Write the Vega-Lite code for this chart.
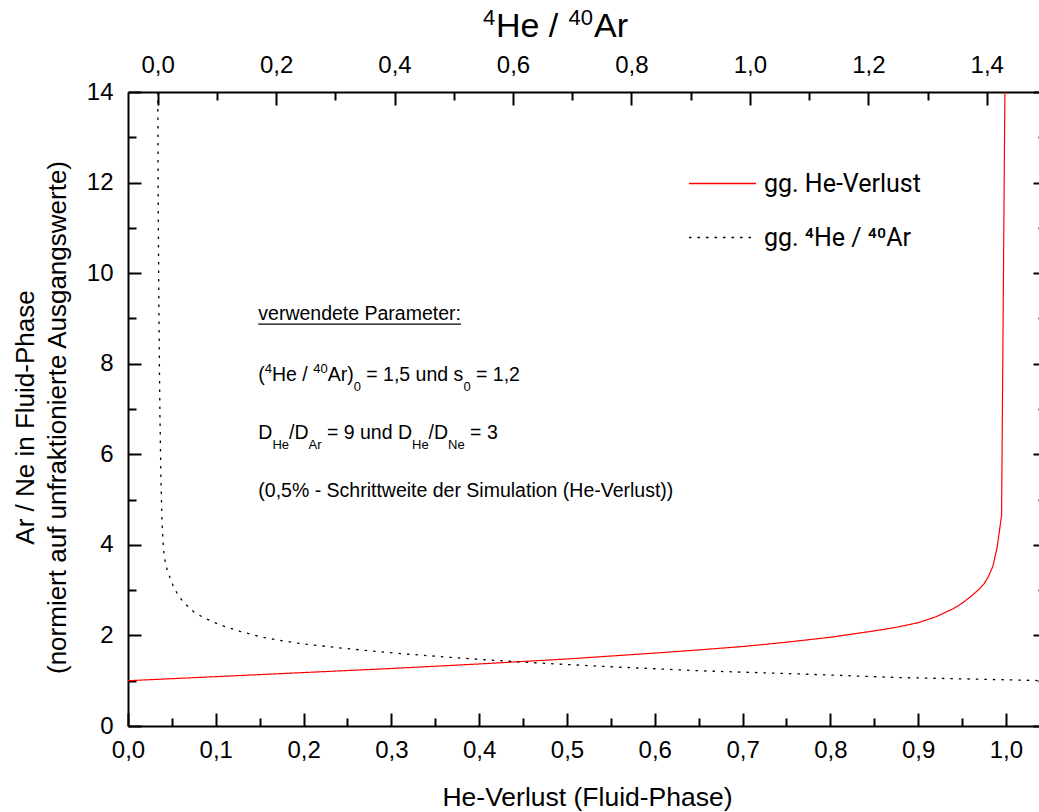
{
 "$schema": "https://vega.github.io/schema/vega-lite/v6.json",
 "autosize": {"type": "none"},
 "padding": {"left": 128, "top": 92, "right": -7, "bottom": 86},
 "width": 918,
 "height": 634,
 "config": {
  "font": "Liberation Sans",
  "view": {"stroke": null},
  "axis": {"grid": false, "domainColor": "#000", "domainWidth": 2, "tickColor": "#000", "tickWidth": 2, "labelColor": "#000", "titleColor": "#000", "labelFontSize": 24, "labelFont": "Liberation Sans", "titleFont": "Liberation Sans", "titleFontWeight": "normal", "labelFlush": false, "labelOverlap": false},
  "legend": {"rowPadding": 6},
  "text": {"font": "Liberation Sans", "color": "#000"}
 },
 "data": {"values": [
  {"series": "gg. He-Verlust", "f": 0.0, "v": 1.0},
  {"series": "gg. He-Verlust", "f": 0.05, "v": 1.045},
  {"series": "gg. He-Verlust", "f": 0.1, "v": 1.09},
  {"series": "gg. He-Verlust", "f": 0.15, "v": 1.135},
  {"series": "gg. He-Verlust", "f": 0.2, "v": 1.18},
  {"series": "gg. He-Verlust", "f": 0.25, "v": 1.225},
  {"series": "gg. He-Verlust", "f": 0.3, "v": 1.27},
  {"series": "gg. He-Verlust", "f": 0.35, "v": 1.32},
  {"series": "gg. He-Verlust", "f": 0.4, "v": 1.37},
  {"series": "gg. He-Verlust", "f": 0.45, "v": 1.425},
  {"series": "gg. He-Verlust", "f": 0.5, "v": 1.48},
  {"series": "gg. He-Verlust", "f": 0.55, "v": 1.545},
  {"series": "gg. He-Verlust", "f": 0.6, "v": 1.61},
  {"series": "gg. He-Verlust", "f": 0.65, "v": 1.68},
  {"series": "gg. He-Verlust", "f": 0.7, "v": 1.755},
  {"series": "gg. He-Verlust", "f": 0.75, "v": 1.85},
  {"series": "gg. He-Verlust", "f": 0.8, "v": 1.96},
  {"series": "gg. He-Verlust", "f": 0.85, "v": 2.1},
  {"series": "gg. He-Verlust", "f": 0.875, "v": 2.18},
  {"series": "gg. He-Verlust", "f": 0.9, "v": 2.28},
  {"series": "gg. He-Verlust", "f": 0.92, "v": 2.41},
  {"series": "gg. He-Verlust", "f": 0.94, "v": 2.59},
  {"series": "gg. He-Verlust", "f": 0.95, "v": 2.71},
  {"series": "gg. He-Verlust", "f": 0.96, "v": 2.86},
  {"series": "gg. He-Verlust", "f": 0.97, "v": 3.03},
  {"series": "gg. He-Verlust", "f": 0.975, "v": 3.14},
  {"series": "gg. He-Verlust", "f": 0.98, "v": 3.3},
  {"series": "gg. He-Verlust", "f": 0.985, "v": 3.52},
  {"series": "gg. He-Verlust", "f": 0.99, "v": 3.95},
  {"series": "gg. He-Verlust", "f": 0.995, "v": 4.65},
  {"series": "gg. He-Verlust", "f": 1.0, "v": 17.0},
  {"series": "gg. ⁴He / ⁴⁰Ar", "r": 0.0003, "v": 14.0},
  {"series": "gg. ⁴He / ⁴⁰Ar", "r": 0.001, "v": 11.5},
  {"series": "gg. ⁴He / ⁴⁰Ar", "r": 0.002, "v": 9.5},
  {"series": "gg. ⁴He / ⁴⁰Ar", "r": 0.003, "v": 8.0},
  {"series": "gg. ⁴He / ⁴⁰Ar", "r": 0.004, "v": 6.8},
  {"series": "gg. ⁴He / ⁴⁰Ar", "r": 0.0057, "v": 5.4},
  {"series": "gg. ⁴He / ⁴⁰Ar", "r": 0.0074, "v": 4.5},
  {"series": "gg. ⁴He / ⁴⁰Ar", "r": 0.0095, "v": 4.0},
  {"series": "gg. ⁴He / ⁴⁰Ar", "r": 0.0113, "v": 3.73},
  {"series": "gg. ⁴He / ⁴⁰Ar", "r": 0.015, "v": 3.5},
  {"series": "gg. ⁴He / ⁴⁰Ar", "r": 0.0185, "v": 3.36},
  {"series": "gg. ⁴He / ⁴⁰Ar", "r": 0.027, "v": 3.07},
  {"series": "gg. ⁴He / ⁴⁰Ar", "r": 0.035, "v": 2.88},
  {"series": "gg. ⁴He / ⁴⁰Ar", "r": 0.044, "v": 2.73},
  {"series": "gg. ⁴He / ⁴⁰Ar", "r": 0.061, "v": 2.52},
  {"series": "gg. ⁴He / ⁴⁰Ar", "r": 0.078, "v": 2.39},
  {"series": "gg. ⁴He / ⁴⁰Ar", "r": 0.106, "v": 2.23},
  {"series": "gg. ⁴He / ⁴⁰Ar", "r": 0.139, "v": 2.09},
  {"series": "gg. ⁴He / ⁴⁰Ar", "r": 0.174, "v": 1.97},
  {"series": "gg. ⁴He / ⁴⁰Ar", "r": 0.207, "v": 1.89},
  {"series": "gg. ⁴He / ⁴⁰Ar", "r": 0.241, "v": 1.82},
  {"series": "gg. ⁴He / ⁴⁰Ar", "r": 0.297, "v": 1.74},
  {"series": "gg. ⁴He / ⁴⁰Ar", "r": 0.35, "v": 1.67},
  {"series": "gg. ⁴He / ⁴⁰Ar", "r": 0.41, "v": 1.6},
  {"series": "gg. ⁴He / ⁴⁰Ar", "r": 0.5, "v": 1.51},
  {"series": "gg. ⁴He / ⁴⁰Ar", "r": 0.616, "v": 1.41},
  {"series": "gg. ⁴He / ⁴⁰Ar", "r": 0.746, "v": 1.32},
  {"series": "gg. ⁴He / ⁴⁰Ar", "r": 0.914, "v": 1.22},
  {"series": "gg. ⁴He / ⁴⁰Ar", "r": 1.083, "v": 1.15},
  {"series": "gg. ⁴He / ⁴⁰Ar", "r": 1.251, "v": 1.07},
  {"series": "gg. ⁴He / ⁴⁰Ar", "r": 1.4, "v": 1.03},
  {"series": "gg. ⁴He / ⁴⁰Ar", "r": 1.5, "v": 1.0}
 ]},
 "layer": [
  {"layer": [
   {
    "transform": [{"filter": "datum.series == 'gg. He-Verlust'"}],
    "mark": {"type": "line", "strokeWidth": 1.2, "clip": true},
    "encoding": {
     "x": {"field": "f", "type": "quantitative", "scale": {"domain": [0, 1.0456], "nice": false, "zero": false},
      "axis": {"orient": "bottom", "values": [0, 0.05, 0.1, 0.15, 0.2, 0.25, 0.3, 0.35, 0.4, 0.45, 0.5, 0.55, 0.6, 0.65, 0.7, 0.75, 0.8, 0.85, 0.9, 0.95, 1.0],
       "labelExpr": "abs(datum.value*10 - round(datum.value*10)) < 0.001 ? replace(format(datum.value, '.1f'), '.', ',') : ''",
       "tickSize": {"condition": {"test": "abs(datum.value*10 - round(datum.value*10)) < 0.001", "value": -13}, "value": -8},
       "tickWidth": 2, "tickColor": "#000",
       "labelPadding": 25,
       "title": "He-Verlust (Fluid-Phase)", "titleFontSize": 26.5, "titleY": 79, "titleBaseline": "alphabetic"}},
     "y": {"field": "v", "type": "quantitative", "scale": {"domain": [0, 14], "nice": false},
      "axis": {"orient": "left", "values": [0,1,2,3,4,5,6,7,8,9,10,11,12,13,14],
       "labelExpr": "datum.value % 2 == 0 ? datum.label : ''",
       "tickSize": {"condition": {"test": "datum.value % 2 == 0", "value": -13}, "value": -8},
       "tickWidth": 2, "tickColor": "#000",
       "labelPadding": 28,
       "title": ["Ar / Ne in Fluid-Phase", "(normiert auf unfraktionierte Ausgangswerte)"], "titleFontSize": 26, "titleLineHeight": 32, "titleX": -95, "titleY": 325, "titleBaseline": "alphabetic", "titleAlign": "center", "titleAngle": -90}},
     "color": {"field": "series", "type": "nominal", "scale": {"domain": ["gg. He-Verlust", "gg. ⁴He / ⁴⁰Ar"], "range": ["#ff0000", "#000000"]},
      "legend": {"orient": "none", "legendX": 560, "legendY": 57, "title": null, "symbolType": "stroke", "symbolSize": 4489, "symbolStrokeWidth": 1.3, "labelFontSize": 25, "labelFont": "Roboto", "labelColor": "#000", "labelOffset": 7, "rowPadding": 6, "padding": 0, "labelLimit": 400}},
     "strokeDash": {"field": "series", "type": "nominal", "scale": {"domain": ["gg. He-Verlust", "gg. ⁴He / ⁴⁰Ar"], "range": [[1, 0], [2.5, 6]]},
      "legend": {"orient": "none", "legendX": 560, "legendY": 57, "title": null, "symbolType": "stroke", "symbolSize": 4489, "symbolStrokeWidth": 1.3, "labelFontSize": 25, "labelFont": "Roboto", "labelColor": "#000", "labelOffset": 7, "rowPadding": 6, "padding": 0, "labelLimit": 400}}
    }
   },
   {"data": {"values": [{}]}, "mark": {"type": "text", "text": "4", "align": "left", "baseline": "alphabetic", "fontSize": 22, "dx": 0, "dy": -67}, "encoding": {"x": {"datum": 0.4043}, "y": {"datum": 14}}},
   {"data": {"values": [{}]}, "mark": {"type": "text", "text": "He /", "align": "left", "baseline": "alphabetic", "fontSize": 34, "dx": 13, "dy": -55}, "encoding": {"x": {"datum": 0.4043}, "y": {"datum": 14}}},
   {"data": {"values": [{}]}, "mark": {"type": "text", "text": "40", "align": "left", "baseline": "alphabetic", "fontSize": 22, "dx": 85.5, "dy": -67}, "encoding": {"x": {"datum": 0.4043}, "y": {"datum": 14}}},
   {"data": {"values": [{}]}, "mark": {"type": "text", "text": "Ar", "align": "left", "baseline": "alphabetic", "fontSize": 34, "dx": 111, "dy": -55}, "encoding": {"x": {"datum": 0.4043}, "y": {"datum": 14}}},
   {"data": {"values": [{}]}, "mark": {"type": "text", "text": "verwendete Parameter:", "align": "left", "baseline": "alphabetic", "fontSize": 19.5}, "encoding": {"x": {"datum": 0.1484}, "y": {"datum": 8.962}}},
   {"data": {"values": [{}]}, "mark": {"type": "rule", "strokeWidth": 1.2, "color": "#000"}, "encoding": {"x": {"datum": 0.1484}, "x2": {"datum": 0.3793}, "y": {"datum": 8.874}}},
   {"data": {"values": [{}]}, "mark": {"type": "text", "text": "(", "align": "left", "baseline": "alphabetic", "fontSize": 19.5, "dx": 0}, "encoding": {"x": {"datum": 0.1484}, "y": {"datum": 7.616}}},
   {"data": {"values": [{}]}, "mark": {"type": "text", "text": "4", "align": "left", "baseline": "alphabetic", "fontSize": 13, "dx": 6.5, "dy": -8}, "encoding": {"x": {"datum": 0.1484}, "y": {"datum": 7.616}}},
   {"data": {"values": [{}]}, "mark": {"type": "text", "text": "He /", "align": "left", "baseline": "alphabetic", "fontSize": 19.5, "dx": 13.7}, "encoding": {"x": {"datum": 0.1484}, "y": {"datum": 7.616}}},
   {"data": {"values": [{}]}, "mark": {"type": "text", "text": "40", "align": "left", "baseline": "alphabetic", "fontSize": 13, "dx": 54.9, "dy": -8}, "encoding": {"x": {"datum": 0.1484}, "y": {"datum": 7.616}}},
   {"data": {"values": [{}]}, "mark": {"type": "text", "text": "Ar)", "align": "left", "baseline": "alphabetic", "fontSize": 19.5, "dx": 69.4}, "encoding": {"x": {"datum": 0.1484}, "y": {"datum": 7.616}}},
   {"data": {"values": [{}]}, "mark": {"type": "text", "text": "0", "align": "left", "baseline": "alphabetic", "fontSize": 13, "dx": 95.4, "dy": 10}, "encoding": {"x": {"datum": 0.1484}, "y": {"datum": 7.616}}},
   {"data": {"values": [{}]}, "mark": {"type": "text", "text": "= 1,5 und s", "align": "left", "baseline": "alphabetic", "fontSize": 19.5, "dx": 108}, "encoding": {"x": {"datum": 0.1484}, "y": {"datum": 7.616}}},
   {"data": {"values": [{}]}, "mark": {"type": "text", "text": "0", "align": "left", "baseline": "alphabetic", "fontSize": 13, "dx": 205.1, "dy": 10}, "encoding": {"x": {"datum": 0.1484}, "y": {"datum": 7.616}}},
   {"data": {"values": [{}]}, "mark": {"type": "text", "text": "= 1,2", "align": "left", "baseline": "alphabetic", "fontSize": 19.5, "dx": 217.7}, "encoding": {"x": {"datum": 0.1484}, "y": {"datum": 7.616}}},
   {"data": {"values": [{}]}, "mark": {"type": "text", "text": "D", "align": "left", "baseline": "alphabetic", "fontSize": 19.5, "dx": 0}, "encoding": {"x": {"datum": 0.1484}, "y": {"datum": 6.336}}},
   {"data": {"values": [{}]}, "mark": {"type": "text", "text": "He", "align": "left", "baseline": "alphabetic", "fontSize": 13, "dx": 14.1, "dy": 10}, "encoding": {"x": {"datum": 0.1484}, "y": {"datum": 6.336}}},
   {"data": {"values": [{}]}, "mark": {"type": "text", "text": "/D", "align": "left", "baseline": "alphabetic", "fontSize": 19.5, "dx": 30.7}, "encoding": {"x": {"datum": 0.1484}, "y": {"datum": 6.336}}},
   {"data": {"values": [{}]}, "mark": {"type": "text", "text": "Ar", "align": "left", "baseline": "alphabetic", "fontSize": 13, "dx": 50.2, "dy": 10}, "encoding": {"x": {"datum": 0.1484}, "y": {"datum": 6.336}}},
   {"data": {"values": [{}]}, "mark": {"type": "text", "text": "= 9 und D", "align": "left", "baseline": "alphabetic", "fontSize": 19.5, "dx": 68.6}, "encoding": {"x": {"datum": 0.1484}, "y": {"datum": 6.336}}},
   {"data": {"values": [{}]}, "mark": {"type": "text", "text": "He", "align": "left", "baseline": "alphabetic", "fontSize": 13, "dx": 153.7, "dy": 10}, "encoding": {"x": {"datum": 0.1484}, "y": {"datum": 6.336}}},
   {"data": {"values": [{}]}, "mark": {"type": "text", "text": "/D", "align": "left", "baseline": "alphabetic", "fontSize": 19.5, "dx": 170.3}, "encoding": {"x": {"datum": 0.1484}, "y": {"datum": 6.336}}},
   {"data": {"values": [{}]}, "mark": {"type": "text", "text": "Ne", "align": "left", "baseline": "alphabetic", "fontSize": 13, "dx": 189.8, "dy": 10}, "encoding": {"x": {"datum": 0.1484}, "y": {"datum": 6.336}}},
   {"data": {"values": [{}]}, "mark": {"type": "text", "text": "= 3", "align": "left", "baseline": "alphabetic", "fontSize": 19.5, "dx": 211.8}, "encoding": {"x": {"datum": 0.1484}, "y": {"datum": 6.336}}},
   {"data": {"values": [{}]}, "mark": {"type": "text", "text": "(0,5% - Schrittweite der Simulation (He-Verlust))", "align": "left", "baseline": "alphabetic", "fontSize": 19.5}, "encoding": {"x": {"datum": 0.1484}, "y": {"datum": 5.055}}}
  ]},
  {
   "transform": [{"filter": "datum.series != 'gg. He-Verlust'"}],
   "mark": {"type": "line", "strokeWidth": 1.3, "clip": true},
   "encoding": {
    "x": {"field": "r", "type": "quantitative", "scale": {"domain": [-0.05, 1.5], "nice": false, "zero": false},
     "axis": {"orient": "top", "values": [0, 0.1, 0.2, 0.3, 0.4, 0.5, 0.6, 0.7, 0.8, 0.9, 1.0, 1.1, 1.2, 1.3, 1.4],
      "labelExpr": "abs(datum.value*5 - round(datum.value*5)) < 0.001 ? replace(format(datum.value, '.1f'), '.', ',') : ''",
      "tickSize": {"condition": {"test": "abs(datum.value*5 - round(datum.value*5)) < 0.001", "value": -13}, "value": -8},
      "tickWidth": 2, "tickColor": "#000",
      "labelPadding": 28,
      "title": null}},
    "y": {"field": "v", "type": "quantitative", "scale": {"domain": [0, 14], "nice": false},
     "axis": {"orient": "right", "values": [0,1,2,3,4,5,6,7,8,9,10,11,12,13,14], "labels": false, "title": null,
      "tickWidth": 2, "tickColor": "#000",
      "tickSize": {"condition": {"test": "datum.value % 2 == 0", "value": -13}, "value": -8}}},
    "color": {"field": "series", "type": "nominal", "scale": {"domain": ["gg. He-Verlust", "gg. ⁴He / ⁴⁰Ar"], "range": ["#ff0000", "#000000"]},
     "legend": {"orient": "none", "legendX": 560, "legendY": 57, "title": null, "symbolType": "stroke", "symbolSize": 4489, "symbolStrokeWidth": 1.3, "labelFontSize": 25, "labelFont": "Roboto", "labelColor": "#000", "labelOffset": 7, "rowPadding": 6, "padding": 0, "labelLimit": 400}},
    "strokeDash": {"field": "series", "type": "nominal", "scale": {"domain": ["gg. He-Verlust", "gg. ⁴He / ⁴⁰Ar"], "range": [[1, 0], [2.5, 6]]},
     "legend": {"orient": "none", "legendX": 560, "legendY": 57, "title": null, "symbolType": "stroke", "symbolSize": 4489, "symbolStrokeWidth": 1.3, "labelFontSize": 25, "labelFont": "Roboto", "labelColor": "#000", "labelOffset": 7, "rowPadding": 6, "padding": 0, "labelLimit": 400}}
   }
  }
 ],
 "resolve": {"scale": {"x": "independent", "y": "independent"}}
}
